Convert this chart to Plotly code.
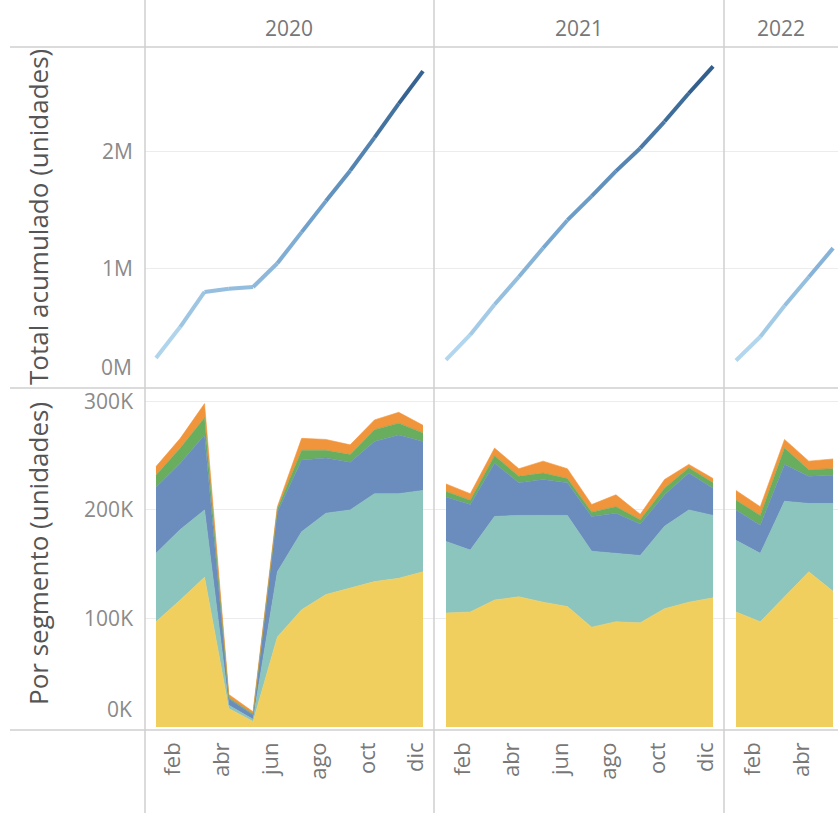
import plotly.graph_objects as go
from plotly.colors import sample_colorscale

# ---------------- data (values in units) ----------------
years = ["2020", "2021", "2022"]
months = [1, 2, 3, 4, 5, 6, 7, 8, 9, 10, 11, 12]
month_tickvals = [2, 4, 6, 8, 10, 12]
month_ticktext = ["feb", "abr", "jun", "ago", "oct", "dic"]

# cumulative totals per year (thousands)
acum_2020 = [240, 506, 804, 832, 846, 1049, 1315, 1580, 1840, 2123, 2413, 2691]
acum_2021 = [224, 439, 696, 934, 1179, 1417, 1622, 1836, 2032, 2260, 2502, 2731]
acum_2022 = [218, 421, 686, 931, 1178]

# segments (thousands), bottom -> top
seg1_2020 = [97, 117, 138, 17, 5, 83, 108, 122, 128, 134, 137, 143]
seg2_2020 = [63, 65, 62, 3, 2, 60, 72, 75, 72, 81, 78, 75]
seg3_2020 = [61, 61, 69, 6, 4, 55, 66, 51, 44, 48, 54, 45]
seg4_2020 = [11, 14, 16, 1, 1, 3, 9, 7, 7, 11, 11, 8]
seg5_2020 = [8, 9, 13, 3, 2, 2, 11, 10, 9, 9, 10, 7]

seg1_2021 = [105, 106, 117, 120, 115, 111, 92, 97, 96, 109, 115, 119]
seg2_2021 = [66, 57, 77, 75, 80, 84, 70, 63, 62, 76, 85, 76]
seg3_2021 = [41, 42, 49, 30, 33, 30, 32, 37, 29, 29, 34, 25]
seg4_2021 = [5, 4, 7, 6, 6, 4, 4, 6, 4, 6, 5, 5]
seg5_2021 = [7, 6, 7, 7, 11, 9, 7, 11, 5, 8, 3, 4]

seg1_2022 = [106, 97, 120, 143, 125]
seg2_2022 = [66, 63, 88, 63, 81]
seg3_2022 = [28, 26, 34, 25, 26]
seg4_2022 = [9, 9, 15, 6, 6]
seg5_2022 = [9, 8, 8, 8, 9]

seg_names = ["Segmento 1", "Segmento 2", "Segmento 3", "Segmento 4", "Segmento 5"]
seg_colors = ["#f1cf5f", "#8cc4be", "#6a8dbd", "#69ad5f", "#f1953c"]

acum = {"2020": acum_2020, "2021": acum_2021, "2022": acum_2022}
segs = {
    "2020": [seg1_2020, seg2_2020, seg3_2020, seg4_2020, seg5_2020],
    "2021": [seg1_2021, seg2_2021, seg3_2021, seg4_2021, seg5_2021],
    "2022": [seg1_2022, seg2_2022, seg3_2022, seg4_2022, seg5_2022],
}

# ---------------- layout geometry ----------------
W, H = 838, 813
def px(x):
    return x / W
def py(y):
    return 1 - y / H

col_px = [(145, 434), (434, 724), (724, 838)]
x_ranges = [[0.547, 12.453], [0.506, 12.45], [0.506, 5.203]]
top_dom = [py(388), py(47)]
bot_dom = [py(730), py(388)]
top_range = [-0.017e6, 2.897e6]
bot_range = [-2800, 312400]

line_scale = [[0, "#b9dcf1"], [0.5, "#6e9fcb"], [1, "#2c5886"]]
vmin, vmax = 0.2e6, 2.75e6

FONT = "Open Sans"
TICK_COLOR = "#8a8a8a"

fig = go.Figure()

for i, yr in enumerate(years):
    xt = "x" if i == 0 else f"x{i+1}"
    yt = "y" if i == 0 else f"y{i+1}"
    xb = f"x{i+4}"
    yb = f"y{i+4}"
    cum = [v * 1000 for v in acum[yr]]
    n = len(cum)
    mx = months[:n]
    # gradient line drawn segment by segment
    for k in range(n - 1):
        mid = (cum[k] + cum[k + 1]) / 2
        t = min(max((mid - vmin) / (vmax - vmin), 0), 1)
        col = sample_colorscale(line_scale, [t])[0]
        fig.add_trace(go.Scatter(
            x=mx[k:k + 2], y=cum[k:k + 2], mode="lines",
            line=dict(color=col, width=4),
            xaxis=xt, yaxis=yt, showlegend=False, hoverinfo="skip"))
    # stacked areas
    for name, vals, colr in zip(seg_names, segs[yr], seg_colors):
        fig.add_trace(go.Scatter(
            x=mx, y=[v * 1000 for v in vals], mode="lines",
            stackgroup=f"g{yr}", name=name,
            line=dict(color=colr, width=0.6), fillcolor=colr,
            xaxis=xb, yaxis=yb, showlegend=False))

layout = dict(
    width=W, height=H,
    margin=dict(l=0, r=0, t=0, b=0),
    paper_bgcolor="white", plot_bgcolor="white",
    font=dict(family=FONT, color=TICK_COLOR),
    showlegend=False,
)

for i in range(3):
    dom = [px(col_px[i][0]), px(col_px[i][1])]
    kt = "" if i == 0 else str(i + 1)
    kb = str(i + 4)
    yt_name = "y" if i == 0 else f"y{i+1}"
    xt_name = "x" if i == 0 else f"x{i+1}"
    # top row
    layout["xaxis" + kt] = dict(domain=dom, range=x_ranges[i], anchor=yt_name,
                                showgrid=False, zeroline=False, showticklabels=False,
                                ticks="", showline=False)
    layout["yaxis" + kt] = dict(domain=top_dom, range=top_range, anchor=xt_name,
                                tickvals=[1e6, 2e6], ticktext=["1M", "2M"],
                                showticklabels=(i == 0), ticks="",
                                ticklabelstandoff=11,
                                tickfont=dict(family=FONT, size=21, color=TICK_COLOR),
                                showgrid=True, gridcolor="#ececec", gridwidth=1,
                                zeroline=False, showline=False)
    # bottom row
    layout["xaxis" + kb] = dict(domain=dom, range=x_ranges[i], anchor=f"y{i+4}",
                                tickvals=month_tickvals, ticktext=month_ticktext,
                                tickangle=-90, ticks="",
                                ticklabelstandoff=7, ticklabelshift=-7,
                                tickfont=dict(family=FONT, size=22, color="#777777"),
                                showgrid=False, zeroline=False, showline=False)
    layout["yaxis" + kb] = dict(domain=bot_dom, range=bot_range, anchor=f"x{i+4}",
                                tickvals=[100000, 200000, 300000],
                                ticktext=["100K", "200K", "300K"],
                                showticklabels=(i == 0), ticks="",
                                ticklabelstandoff=11,
                                tickfont=dict(family=FONT, size=21, color=TICK_COLOR),
                                showgrid=True, gridcolor="#ececec", gridwidth=1,
                                zeroline=False, showline=False)

fig.update_layout(**layout)

# frame lines (Tableau-style pane dividers)
shapes = []
for xv in [145, 434, 724]:
    shapes.append(dict(type="line", xref="paper", yref="paper",
                       x0=px(xv), x1=px(xv), y0=0, y1=1,
                       line=dict(color="#cfcfcf", width=1.5), layer="above"))
for yv in [47, 388, 730]:
    shapes.append(dict(type="line", xref="paper", yref="paper",
                       x0=px(10), x1=1, y0=py(yv), y1=py(yv),
                       line=dict(color="#cfcfcf", width=1.5), layer="above"))
fig.update_layout(shapes=shapes)

annotations = []
# year headers
header_x = [289, 579, 781]
for yr, hx in zip(years, header_x):
    annotations.append(dict(text=yr, x=px(hx), y=py(28), xref="paper", yref="paper",
                            showarrow=False, xanchor="center", yanchor="middle",
                            font=dict(family=FONT, size=21, color="#777777")))
# zero labels (shifted up like the original)
annotations.append(dict(text="0M", x=px(134), y=py(367), xref="paper", yref="paper",
                        showarrow=False, xanchor="right", yanchor="middle",
                        font=dict(family=FONT, size=21, color=TICK_COLOR)))
annotations.append(dict(text="0K", x=px(134), y=py(709), xref="paper", yref="paper",
                        showarrow=False, xanchor="right", yanchor="middle",
                        font=dict(family=FONT, size=21, color=TICK_COLOR)))
# axis titles
annotations.append(dict(text="Total acumulado (unidades)", x=px(38), y=py(217),
                        xref="paper", yref="paper", showarrow=False, textangle=-90,
                        xanchor="center", yanchor="middle",
                        font=dict(family=FONT, size=26, color="#555555")))
annotations.append(dict(text="Por segmento (unidades)", x=px(38), y=py(554),
                        xref="paper", yref="paper", showarrow=False, textangle=-90,
                        xanchor="center", yanchor="middle",
                        font=dict(family=FONT, size=26, color="#555555")))
fig.update_layout(annotations=annotations)

fig.write_html("out.html", config={"displayModeBar": False},
               post_script="document.body.style.margin='0px';")
